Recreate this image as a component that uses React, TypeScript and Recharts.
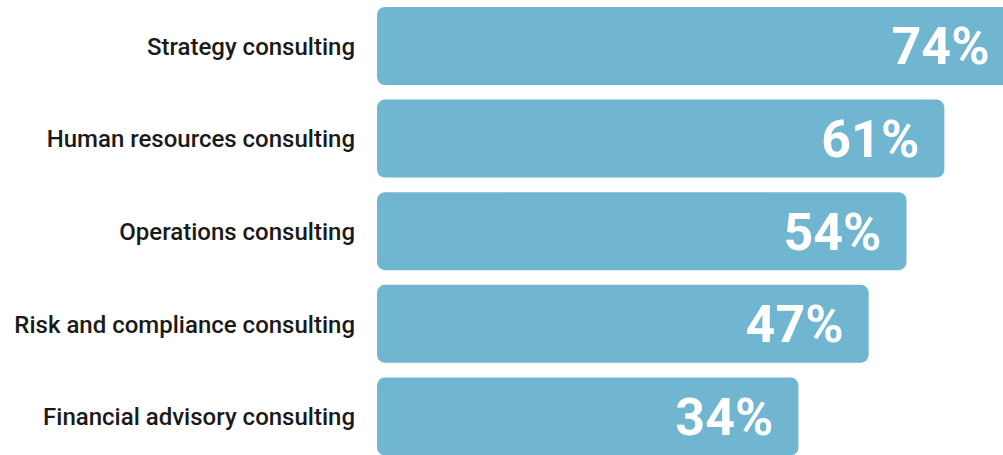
import { BarChart, Bar, XAxis, YAxis, LabelList, Rectangle } from "recharts";

const services = [
  "Strategy consulting",
  "Human resources consulting",
  "Operations consulting",
  "Risk and compliance consulting",
  "Financial advisory consulting",
];
const shares = [74, 61, 54, 47, 34];

const data = services.map((name, i) => ({ name, share: shares[i] }));

// bars start at the left edge of the plot, not at the scale's zero
const FromAxisBar = (props: any) => {
  const { x, y, width, height, fill, background } = props;
  const left = background ? background.x : x;
  return (
    <Rectangle
      x={left}
      y={y}
      width={x + width - left}
      height={height}
      fill={fill}
      radius={8}
    />
  );
};

export default function App() {
  return (
    <div style={{ position: "absolute", left: 0, top: 0, width: 1003, height: 455, overflow: "hidden", background: "#fff" }}>
      <BarChart
        width={1047}
        height={463}
        data={data}
        layout="vertical"
        margin={{ top: 0, right: 0, bottom: 0, left: 0 }}
      >
        <XAxis type="number" hide domain={[-44, 80]} />
        <YAxis
          type="category"
          dataKey="name"
          width={377}
          axisLine={false}
          tickLine={false}
          tickMargin={16}
          tick={{ fill: "#1a1a1a", fontSize: 24, fontWeight: 500, fontFamily: "Roboto" }}
        />
        <Bar dataKey="share" fill="#70B6D1" barSize={78} shape={FromAxisBar} isAnimationActive={false}>
          <LabelList
            dataKey="share"
            position="insideRight"
            offset={25}
            formatter={(v: number) => `${v}%`}
            style={{ fill: "#fff", fontSize: 52, fontWeight: 700, fontFamily: "Roboto" }}
          />
        </Bar>
      </BarChart>
    </div>
  );
}
